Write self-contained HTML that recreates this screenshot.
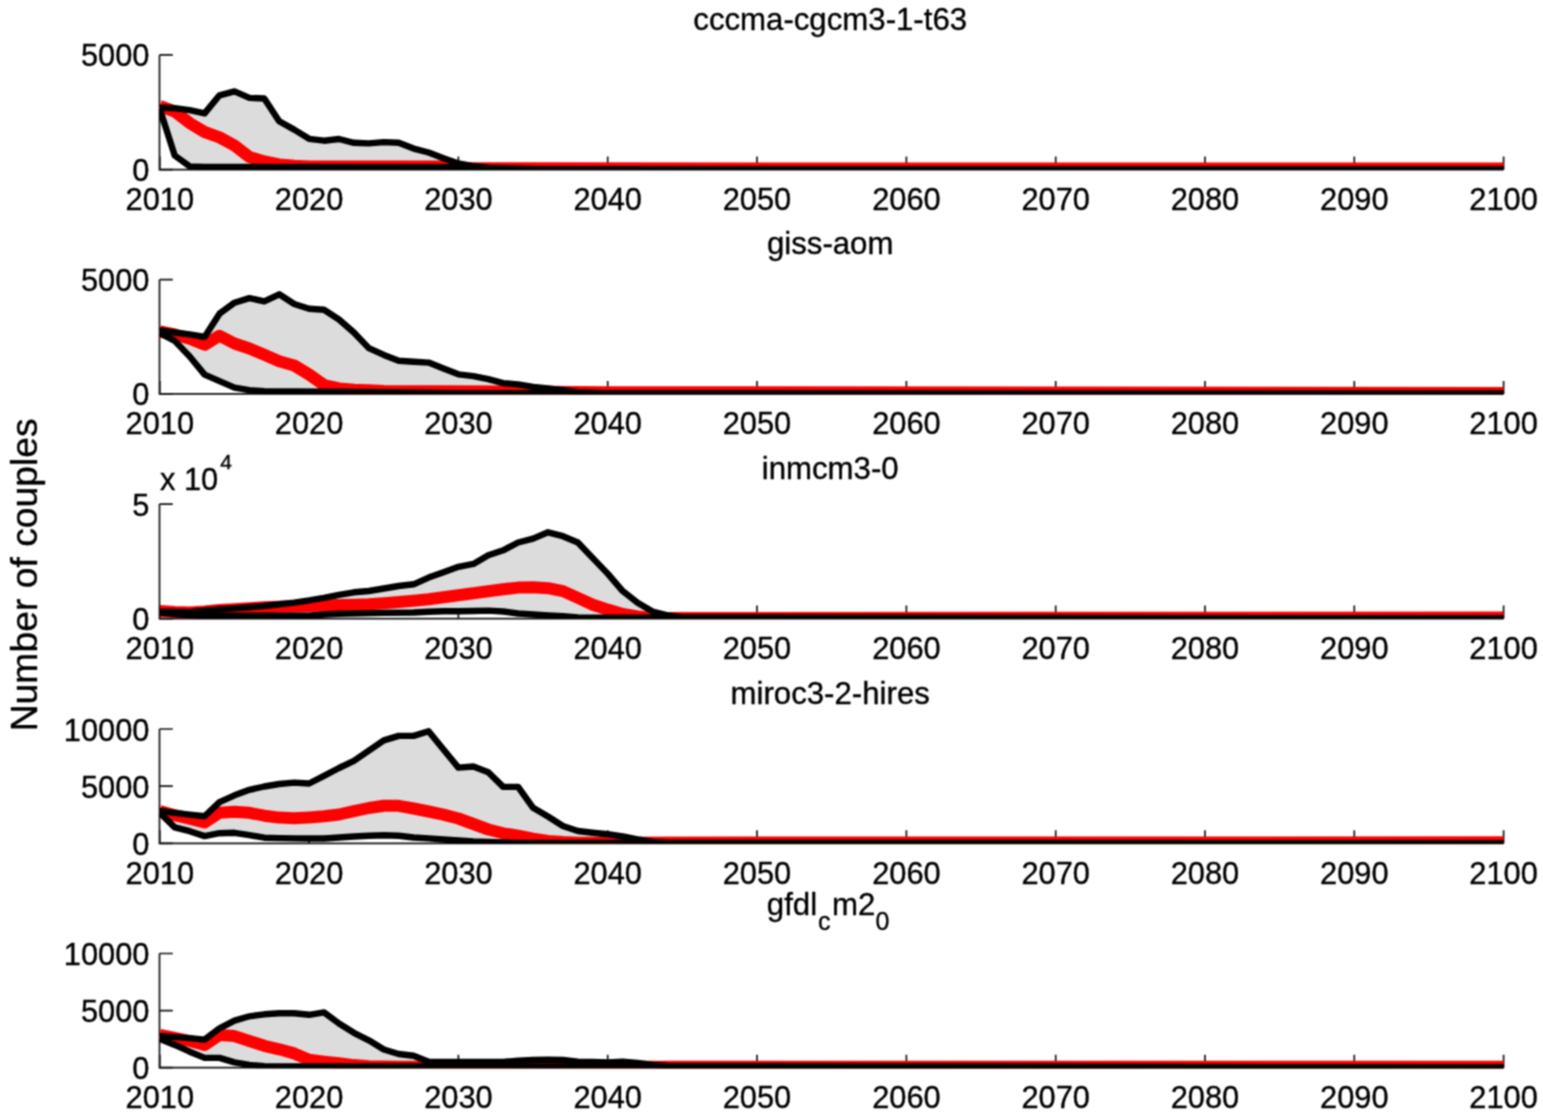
<!DOCTYPE html>
<html><head><meta charset="utf-8"><title>Number of couples</title>
<style>
html,body{margin:0;padding:0;background:#fff;width:1543px;height:1115px;overflow:hidden;}
svg{display:block;}
text{font-family:"Liberation Sans",Arial,Helvetica,sans-serif;fill:#000;stroke:#000;stroke-width:0.35px;}
.tk{font-size:30.8px;}
.ti{font-size:31.2px;}
</style></head><body>
<svg width="1543" height="1115" viewBox="0 0 1543 1115">
<defs>
<filter id="soft" x="0" y="0" width="1543" height="1115" filterUnits="userSpaceOnUse" color-interpolation-filters="sRGB"><feConvolveMatrix order="3" kernelMatrix="1 2 1 2 4 2 1 2 1" divisor="16" edgeMode="duplicate"/></filter>
<clipPath id="c0"><rect x="159.2" y="34.9" width="1345.0" height="135.1"/></clipPath>
<clipPath id="c1"><rect x="159.2" y="259.7" width="1345.0" height="134.6"/></clipPath>
<clipPath id="c2"><rect x="159.2" y="484.1" width="1345.0" height="134.9"/></clipPath>
<clipPath id="c3"><rect x="159.2" y="709.0" width="1345.0" height="134.7"/></clipPath>
<clipPath id="c4"><rect x="159.2" y="933.5" width="1345.0" height="134.7"/></clipPath>
</defs>
<g filter="url(#soft)">
<rect width="1543" height="1115" fill="#fff"/>
<path d="M159.5 54.9V169.6H1503.6" fill="none" stroke="#151515" stroke-width="1.7"/>
<path d="M159.5 54.9H172.8M159.5 169.6H172.8M159.8 169.6V156.6M309.1 169.6V156.6M458.4 169.6V156.6M607.7 169.6V156.6M757.0 169.6V156.6M906.4 169.6V156.6M1055.7 169.6V156.6M1205.0 169.6V156.6M1354.3 169.6V156.6M1503.6 169.6V156.6" fill="none" stroke="#151515" stroke-width="1.7"/>
<g clip-path="url(#c0)">
<polygon points="159.8,107.6 174.7,108.2 189.7,110.2 204.6,113.4 219.5,95.3 234.5,91.4 249.4,97.9 264.3,98.5 279.2,121.2 294.2,129.6 309.1,138.8 324.0,140.7 339.0,139.0 353.9,142.8 368.8,143.4 383.8,142.1 398.7,142.8 413.6,148.6 428.6,152.5 443.5,158.3 458.4,163.5 473.4,166.3 488.3,167.6 518.1,168.8 548.0,169.4 1503.6,169.4 1503.6,169.4 548.0,169.4 488.3,168.8 458.4,167.2 204.6,167.0 189.7,166.4 174.7,155.5 159.8,108.9" fill="#dcdcdc"/>
<polyline points="159.8,106.0 174.7,111.5 189.7,123.1 204.6,132.0 219.5,137.4 234.5,145.5 249.4,157.0 264.3,161.5 279.2,164.5 294.2,165.8 309.1,166.5 443.5,166.6 473.4,168.3 1503.6,168.6" fill="none" stroke="#ff0000" stroke-width="12.0" stroke-linejoin="round"/>
<polyline points="159.8,107.6 174.7,108.2 189.7,110.2 204.6,113.4 219.5,95.3 234.5,91.4 249.4,97.9 264.3,98.5 279.2,121.2 294.2,129.6 309.1,138.8 324.0,140.7 339.0,139.0 353.9,142.8 368.8,143.4 383.8,142.1 398.7,142.8 413.6,148.6 428.6,152.5 443.5,158.3 458.4,163.5 473.4,166.3 488.3,167.6 518.1,168.8 548.0,169.4 1503.6,169.4" fill="none" stroke="#000" stroke-width="6.4" stroke-linejoin="round"/>
<polyline points="159.8,108.9 174.7,155.5 189.7,166.4 204.6,167.0 458.4,167.2 488.3,168.8 548.0,169.4 1503.6,169.4" fill="none" stroke="#000" stroke-width="6.4" stroke-linejoin="round"/>
</g>
<text class="tk" x="149.5" y="66.4" text-anchor="end">5000</text>
<text class="tk" x="149.5" y="181.1" text-anchor="end">0</text>
<text class="tk" x="159.8" y="209.9" text-anchor="middle">2010</text>
<text class="tk" x="309.1" y="209.9" text-anchor="middle">2020</text>
<text class="tk" x="458.4" y="209.9" text-anchor="middle">2030</text>
<text class="tk" x="607.7" y="209.9" text-anchor="middle">2040</text>
<text class="tk" x="757.0" y="209.9" text-anchor="middle">2050</text>
<text class="tk" x="906.4" y="209.9" text-anchor="middle">2060</text>
<text class="tk" x="1055.7" y="209.9" text-anchor="middle">2070</text>
<text class="tk" x="1205.0" y="209.9" text-anchor="middle">2080</text>
<text class="tk" x="1354.3" y="209.9" text-anchor="middle">2090</text>
<text class="tk" x="1503.6" y="209.9" text-anchor="middle">2100</text>
<text class="ti" x="830.2" y="30.0" text-anchor="middle">cccma-cgcm3-1-t63</text>
<path d="M159.5 279.7V393.9H1503.6" fill="none" stroke="#151515" stroke-width="1.7"/>
<path d="M159.5 279.7H172.8M159.5 393.9H172.8M159.8 393.9V380.9M309.1 393.9V380.9M458.4 393.9V380.9M607.7 393.9V380.9M757.0 393.9V380.9M906.4 393.9V380.9M1055.7 393.9V380.9M1205.0 393.9V380.9M1354.3 393.9V380.9M1503.6 393.9V380.9" fill="none" stroke="#151515" stroke-width="1.7"/>
<g clip-path="url(#c1)">
<polygon points="159.8,330.5 174.7,332.5 189.7,334.4 204.6,337.0 219.5,313.7 234.5,302.7 249.4,298.1 264.3,301.4 279.2,294.3 294.2,304.0 309.1,308.8 324.0,309.8 339.0,319.5 353.9,332.5 368.8,348.1 383.8,354.9 398.7,360.7 413.6,361.7 428.6,362.6 443.5,368.5 458.4,374.3 473.4,376.2 488.3,379.2 503.2,383.1 518.1,384.4 533.1,386.9 548.0,388.5 562.9,390.3 577.9,392.2 607.7,393.5 1503.6,393.7 1503.6,393.7 458.4,393.2 383.8,392.2 264.3,391.2 249.4,390.2 234.5,387.6 219.5,381.1 204.6,374.6 189.7,356.5 174.7,340.9 159.8,333.1" fill="#dcdcdc"/>
<polyline points="159.8,331.5 174.7,334.5 189.7,338.8 204.6,344.8 219.5,335.7 234.5,343.5 249.4,348.5 264.3,354.8 279.2,361.3 294.2,365.5 309.1,374.5 324.0,385.0 339.0,388.4 353.9,389.8 368.8,390.2 383.8,390.9 503.2,391.6 607.7,392.2 1503.6,392.9" fill="none" stroke="#ff0000" stroke-width="12.0" stroke-linejoin="round"/>
<polyline points="159.8,330.5 174.7,332.5 189.7,334.4 204.6,337.0 219.5,313.7 234.5,302.7 249.4,298.1 264.3,301.4 279.2,294.3 294.2,304.0 309.1,308.8 324.0,309.8 339.0,319.5 353.9,332.5 368.8,348.1 383.8,354.9 398.7,360.7 413.6,361.7 428.6,362.6 443.5,368.5 458.4,374.3 473.4,376.2 488.3,379.2 503.2,383.1 518.1,384.4 533.1,386.9 548.0,388.5 562.9,390.3 577.9,392.2 607.7,393.5 1503.6,393.7" fill="none" stroke="#000" stroke-width="6.4" stroke-linejoin="round"/>
<polyline points="159.8,333.1 174.7,340.9 189.7,356.5 204.6,374.6 219.5,381.1 234.5,387.6 249.4,390.2 264.3,391.2 383.8,392.2 458.4,393.2 1503.6,393.7" fill="none" stroke="#000" stroke-width="6.4" stroke-linejoin="round"/>
</g>
<text class="tk" x="149.5" y="291.2" text-anchor="end">5000</text>
<text class="tk" x="149.5" y="405.4" text-anchor="end">0</text>
<text class="tk" x="159.8" y="434.2" text-anchor="middle">2010</text>
<text class="tk" x="309.1" y="434.2" text-anchor="middle">2020</text>
<text class="tk" x="458.4" y="434.2" text-anchor="middle">2030</text>
<text class="tk" x="607.7" y="434.2" text-anchor="middle">2040</text>
<text class="tk" x="757.0" y="434.2" text-anchor="middle">2050</text>
<text class="tk" x="906.4" y="434.2" text-anchor="middle">2060</text>
<text class="tk" x="1055.7" y="434.2" text-anchor="middle">2070</text>
<text class="tk" x="1205.0" y="434.2" text-anchor="middle">2080</text>
<text class="tk" x="1354.3" y="434.2" text-anchor="middle">2090</text>
<text class="tk" x="1503.6" y="434.2" text-anchor="middle">2100</text>
<text class="ti" x="830.2" y="254.3" text-anchor="middle">giss-aom</text>
<path d="M159.5 504.1V618.6H1503.6" fill="none" stroke="#151515" stroke-width="1.7"/>
<path d="M159.5 504.1H172.8M159.5 618.6H172.8M159.8 618.6V605.6M309.1 618.6V605.6M458.4 618.6V605.6M607.7 618.6V605.6M757.0 618.6V605.6M906.4 618.6V605.6M1055.7 618.6V605.6M1205.0 618.6V605.6M1354.3 618.6V605.6M1503.6 618.6V605.6" fill="none" stroke="#151515" stroke-width="1.7"/>
<g clip-path="url(#c2)">
<polygon points="159.8,611.6 174.7,612.0 189.7,612.3 204.6,610.8 219.5,609.5 234.5,608.4 249.4,607.2 264.3,606.0 279.2,604.3 294.2,602.6 309.1,600.4 324.0,597.8 339.0,594.8 353.9,592.3 368.8,591.0 383.8,588.5 398.7,586.0 413.6,584.3 428.6,577.6 443.5,572.2 458.4,566.8 473.4,563.9 488.3,555.2 503.2,550.3 518.1,542.5 533.1,538.6 548.0,532.3 562.9,536.2 577.9,542.5 592.8,558.1 607.7,573.6 622.7,591.1 637.6,602.8 652.5,611.5 667.5,615.4 682.4,617.5 1503.6,618.4 1503.6,618.4 577.9,617.5 562.9,616.2 548.0,615.4 533.1,614.5 518.1,613.5 503.2,611.5 488.3,610.6 473.4,611.0 458.4,611.3 443.5,611.3 428.6,611.7 413.6,612.5 383.8,612.9 339.0,613.7 324.0,614.5 309.1,615.8 204.6,615.8 189.7,615.3 174.7,614.0 159.8,612.5" fill="#dcdcdc"/>
<polyline points="159.8,611.0 174.7,612.0 189.7,612.5 204.6,611.5 219.5,610.0 234.5,609.2 249.4,608.3 264.3,607.3 279.2,606.8 294.2,606.5 309.1,606.0 324.0,605.6 339.0,605.1 353.9,604.7 368.8,604.3 383.8,603.2 398.7,602.0 413.6,600.8 428.6,599.3 443.5,597.3 458.4,595.2 473.4,593.3 488.3,591.3 503.2,589.3 518.1,587.6 533.1,587.2 548.0,588.2 562.9,591.1 577.9,597.9 592.8,604.7 607.7,609.6 622.7,614.0 637.6,616.5 652.5,618.0 1503.6,617.6" fill="none" stroke="#ff0000" stroke-width="12.0" stroke-linejoin="round"/>
<polyline points="159.8,611.6 174.7,612.0 189.7,612.3 204.6,610.8 219.5,609.5 234.5,608.4 249.4,607.2 264.3,606.0 279.2,604.3 294.2,602.6 309.1,600.4 324.0,597.8 339.0,594.8 353.9,592.3 368.8,591.0 383.8,588.5 398.7,586.0 413.6,584.3 428.6,577.6 443.5,572.2 458.4,566.8 473.4,563.9 488.3,555.2 503.2,550.3 518.1,542.5 533.1,538.6 548.0,532.3 562.9,536.2 577.9,542.5 592.8,558.1 607.7,573.6 622.7,591.1 637.6,602.8 652.5,611.5 667.5,615.4 682.4,617.5 1503.6,618.4" fill="none" stroke="#000" stroke-width="6.4" stroke-linejoin="round"/>
<polyline points="159.8,612.5 174.7,614.0 189.7,615.3 204.6,615.8 309.1,615.8 324.0,614.5 339.0,613.7 383.8,612.9 413.6,612.5 428.6,611.7 443.5,611.3 458.4,611.3 473.4,611.0 488.3,610.6 503.2,611.5 518.1,613.5 533.1,614.5 548.0,615.4 562.9,616.2 577.9,617.5 1503.6,618.4" fill="none" stroke="#000" stroke-width="6.4" stroke-linejoin="round"/>
</g>
<text class="tk" x="149.5" y="515.6" text-anchor="end">5</text>
<text class="tk" x="149.5" y="630.1" text-anchor="end">0</text>
<text class="tk" x="159.8" y="658.9" text-anchor="middle">2010</text>
<text class="tk" x="309.1" y="658.9" text-anchor="middle">2020</text>
<text class="tk" x="458.4" y="658.9" text-anchor="middle">2030</text>
<text class="tk" x="607.7" y="658.9" text-anchor="middle">2040</text>
<text class="tk" x="757.0" y="658.9" text-anchor="middle">2050</text>
<text class="tk" x="906.4" y="658.9" text-anchor="middle">2060</text>
<text class="tk" x="1055.7" y="658.9" text-anchor="middle">2070</text>
<text class="tk" x="1205.0" y="658.9" text-anchor="middle">2080</text>
<text class="tk" x="1354.3" y="658.9" text-anchor="middle">2090</text>
<text class="tk" x="1503.6" y="658.9" text-anchor="middle">2100</text>
<text class="ti" x="830.2" y="478.7" text-anchor="middle">inmcm3-0</text>
<path d="M159.5 729.0V843.3H1503.6" fill="none" stroke="#151515" stroke-width="1.7"/>
<path d="M159.5 729.0H172.8M159.5 786.2H172.8M159.5 843.3H172.8M159.8 843.3V830.3M309.1 843.3V830.3M458.4 843.3V830.3M607.7 843.3V830.3M757.0 843.3V830.3M906.4 843.3V830.3M1055.7 843.3V830.3M1205.0 843.3V830.3M1354.3 843.3V830.3M1503.6 843.3V830.3" fill="none" stroke="#151515" stroke-width="1.7"/>
<g clip-path="url(#c3)">
<polygon points="159.8,810.8 174.7,812.8 189.7,814.7 204.6,816.3 219.5,802.1 234.5,795.3 249.4,789.8 264.3,786.5 279.2,784.0 294.2,782.6 309.1,783.5 324.0,775.8 339.0,768.0 353.9,760.8 368.8,750.6 383.8,740.4 398.7,735.9 413.6,735.9 428.6,731.3 443.5,749.5 458.4,767.6 473.4,766.5 488.3,772.2 503.2,786.9 518.1,786.9 533.1,807.8 548.0,816.5 562.9,826.0 577.9,831.0 592.8,832.7 607.7,834.2 622.7,836.5 637.6,839.5 652.5,842.0 667.5,843.1 1503.6,843.1 1503.6,843.1 518.1,843.0 473.4,841.5 443.5,839.5 428.6,838.4 413.6,837.5 398.7,835.7 383.8,835.2 368.8,835.7 353.9,836.5 339.0,837.5 324.0,838.5 309.1,838.5 294.2,838.4 279.2,838.1 264.3,837.7 249.4,835.1 234.5,832.8 219.5,833.2 204.6,836.1 189.7,831.2 174.7,827.4 159.8,812.8" fill="#dcdcdc"/>
<polyline points="159.8,811.0 174.7,815.2 189.7,818.6 204.6,822.5 219.5,812.8 234.5,811.8 249.4,812.8 264.3,815.7 279.2,817.6 294.2,818.2 309.1,817.4 324.0,816.3 339.0,814.5 353.9,811.2 368.8,808.0 383.8,805.8 398.7,805.8 413.6,808.5 428.6,811.5 443.5,814.6 458.4,818.5 473.4,824.0 488.3,829.5 503.2,833.3 518.1,835.7 533.1,838.6 548.0,840.9 562.9,842.1 577.9,842.7 1503.6,842.3" fill="none" stroke="#ff0000" stroke-width="12.0" stroke-linejoin="round"/>
<polyline points="159.8,810.8 174.7,812.8 189.7,814.7 204.6,816.3 219.5,802.1 234.5,795.3 249.4,789.8 264.3,786.5 279.2,784.0 294.2,782.6 309.1,783.5 324.0,775.8 339.0,768.0 353.9,760.8 368.8,750.6 383.8,740.4 398.7,735.9 413.6,735.9 428.6,731.3 443.5,749.5 458.4,767.6 473.4,766.5 488.3,772.2 503.2,786.9 518.1,786.9 533.1,807.8 548.0,816.5 562.9,826.0 577.9,831.0 592.8,832.7 607.7,834.2 622.7,836.5 637.6,839.5 652.5,842.0 667.5,843.1 1503.6,843.1" fill="none" stroke="#000" stroke-width="6.4" stroke-linejoin="round"/>
<polyline points="159.8,812.8 174.7,827.4 189.7,831.2 204.6,836.1 219.5,833.2 234.5,832.8 249.4,835.1 264.3,837.7 279.2,838.1 294.2,838.4 309.1,838.5 324.0,838.5 339.0,837.5 353.9,836.5 368.8,835.7 383.8,835.2 398.7,835.7 413.6,837.5 428.6,838.4 443.5,839.5 473.4,841.5 518.1,843.0 1503.6,843.1" fill="none" stroke="#000" stroke-width="6.4" stroke-linejoin="round"/>
</g>
<text class="tk" x="149.5" y="740.5" text-anchor="end">10000</text>
<text class="tk" x="149.5" y="797.7" text-anchor="end">5000</text>
<text class="tk" x="149.5" y="854.8" text-anchor="end">0</text>
<text class="tk" x="159.8" y="883.6" text-anchor="middle">2010</text>
<text class="tk" x="309.1" y="883.6" text-anchor="middle">2020</text>
<text class="tk" x="458.4" y="883.6" text-anchor="middle">2030</text>
<text class="tk" x="607.7" y="883.6" text-anchor="middle">2040</text>
<text class="tk" x="757.0" y="883.6" text-anchor="middle">2050</text>
<text class="tk" x="906.4" y="883.6" text-anchor="middle">2060</text>
<text class="tk" x="1055.7" y="883.6" text-anchor="middle">2070</text>
<text class="tk" x="1205.0" y="883.6" text-anchor="middle">2080</text>
<text class="tk" x="1354.3" y="883.6" text-anchor="middle">2090</text>
<text class="tk" x="1503.6" y="883.6" text-anchor="middle">2100</text>
<text class="ti" x="830.2" y="703.6" text-anchor="middle">miroc3-2-hires</text>
<path d="M159.5 953.5V1067.7H1503.6" fill="none" stroke="#151515" stroke-width="1.7"/>
<path d="M159.5 953.5H172.8M159.5 1010.6H172.8M159.5 1067.7H172.8M159.8 1067.7V1054.7M309.1 1067.7V1054.7M458.4 1067.7V1054.7M607.7 1067.7V1054.7M757.0 1067.7V1054.7M906.4 1067.7V1054.7M1055.7 1067.7V1054.7M1205.0 1067.7V1054.7M1354.3 1067.7V1054.7M1503.6 1067.7V1054.7" fill="none" stroke="#151515" stroke-width="1.7"/>
<g clip-path="url(#c4)">
<polygon points="159.8,1036.1 174.7,1037.1 189.7,1038.1 204.6,1039.6 219.5,1028.3 234.5,1020.6 249.4,1016.3 264.3,1014.3 279.2,1013.2 294.2,1013.2 309.1,1014.8 324.0,1012.4 339.0,1023.5 353.9,1032.8 368.8,1040.3 383.8,1049.5 398.7,1054.0 413.6,1055.8 428.6,1061.8 503.2,1062.0 518.1,1060.6 533.1,1060.0 548.0,1059.6 562.9,1060.0 577.9,1061.6 592.8,1062.0 607.7,1062.4 622.7,1061.6 637.6,1062.9 652.5,1064.9 667.5,1066.0 1503.6,1067.5 1503.6,1067.5 264.3,1066.3 249.4,1064.9 234.5,1062.4 219.5,1057.9 204.6,1057.9 189.7,1051.7 174.7,1044.9 159.8,1039.0" fill="#dcdcdc"/>
<polyline points="159.8,1035.0 174.7,1037.8 189.7,1041.0 204.6,1044.9 219.5,1035.1 234.5,1036.1 249.4,1041.0 264.3,1045.8 279.2,1049.3 294.2,1053.4 309.1,1059.8 324.0,1061.6 339.0,1063.3 353.9,1065.1 368.8,1066.2 383.8,1066.6 398.7,1066.8 413.6,1066.8 1503.6,1066.7" fill="none" stroke="#ff0000" stroke-width="12.0" stroke-linejoin="round"/>
<polyline points="159.8,1036.1 174.7,1037.1 189.7,1038.1 204.6,1039.6 219.5,1028.3 234.5,1020.6 249.4,1016.3 264.3,1014.3 279.2,1013.2 294.2,1013.2 309.1,1014.8 324.0,1012.4 339.0,1023.5 353.9,1032.8 368.8,1040.3 383.8,1049.5 398.7,1054.0 413.6,1055.8 428.6,1061.8 503.2,1062.0 518.1,1060.6 533.1,1060.0 548.0,1059.6 562.9,1060.0 577.9,1061.6 592.8,1062.0 607.7,1062.4 622.7,1061.6 637.6,1062.9 652.5,1064.9 667.5,1066.0 1503.6,1067.5" fill="none" stroke="#000" stroke-width="6.4" stroke-linejoin="round"/>
<polyline points="159.8,1039.0 174.7,1044.9 189.7,1051.7 204.6,1057.9 219.5,1057.9 234.5,1062.4 249.4,1064.9 264.3,1066.3 1503.6,1067.5" fill="none" stroke="#000" stroke-width="6.4" stroke-linejoin="round"/>
</g>
<text class="tk" x="149.5" y="965.0" text-anchor="end">10000</text>
<text class="tk" x="149.5" y="1022.1" text-anchor="end">5000</text>
<text class="tk" x="149.5" y="1079.2" text-anchor="end">0</text>
<text class="tk" x="159.8" y="1108.0" text-anchor="middle">2010</text>
<text class="tk" x="309.1" y="1108.0" text-anchor="middle">2020</text>
<text class="tk" x="458.4" y="1108.0" text-anchor="middle">2030</text>
<text class="tk" x="607.7" y="1108.0" text-anchor="middle">2040</text>
<text class="tk" x="757.0" y="1108.0" text-anchor="middle">2050</text>
<text class="tk" x="906.4" y="1108.0" text-anchor="middle">2060</text>
<text class="tk" x="1055.7" y="1108.0" text-anchor="middle">2070</text>
<text class="tk" x="1205.0" y="1108.0" text-anchor="middle">2080</text>
<text class="tk" x="1354.3" y="1108.0" text-anchor="middle">2090</text>
<text class="tk" x="1503.6" y="1108.0" text-anchor="middle">2100</text>
<text class="ti" x="766.8" y="914.6">gfdl<tspan font-size="25" dx="1" dy="15">c</tspan><tspan dx="1.5" dy="-15">m2</tspan><tspan font-size="25" dy="15">0</tspan></text>
<text class="tk" x="160" y="489.9">x 10<tspan font-size="21" dx="2" dy="-21">4</tspan></text>
<text x="0" y="0" font-size="37.3" text-anchor="middle" transform="translate(37.1 574.8) rotate(-90)">Number of couples</text>
</g>
</svg>
</body></html>
